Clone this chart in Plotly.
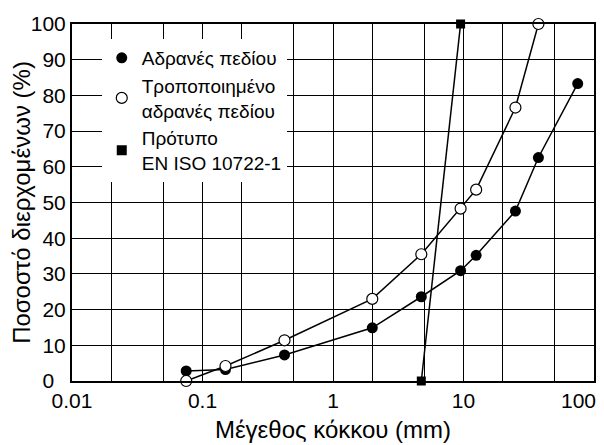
import math
import plotly.graph_objects as go

sizes_field = [0.075, 0.15, 0.425, 2, 4.75, 9.5, 12.5, 25, 37.5, 75]
pass_field = [2.8, 3.2, 7.3, 14.9, 23.6, 30.9, 35.2, 47.6, 62.6, 83.3]

sizes_mod = [0.075, 0.15, 0.425, 2, 4.75, 9.5, 12.5, 25, 37.5]
pass_mod = [0, 4.2, 11.4, 23.0, 35.5, 48.3, 53.6, 76.6, 100]

sizes_std = [4.75, 9.5]
pass_std = [0, 100]

names = ["Αδρανές πεδίου", "Τροποποιημένο<br>αδρανές πεδίου", "Πρότυπο<br>EN ISO 10722-1"]
x_ticks = [0.01, 0.1, 1, 10]
x_tick_text = ["0.01", "0.1", "1", "10"]
x_last_tick = 100
x_last_text = "100"
x_minor = [0.02, 0.05, 0.2, 0.5, 2, 5, 20, 50]
y_ticks = list(range(0, 101, 10))
y_tick_text = ["0\u00a0\u00a0"] + [str(v) for v in y_ticks[1:]]

FONT = "Liberation Sans, Arial, sans-serif"
fig = go.Figure()

line = dict(color="black", width=1.5)
fig.add_trace(go.Scatter(x=sizes_field, y=pass_field, mode="lines+markers", line=line,
                         marker=dict(symbol="circle", size=11, color="black"),
                         showlegend=False, cliponaxis=False))
fig.add_trace(go.Scatter(x=sizes_mod, y=pass_mod, mode="lines+markers", line=line,
                         marker=dict(symbol="circle", size=11, color="white",
                                     line=dict(color="black", width=1.2)),
                         showlegend=False, cliponaxis=False))
fig.add_trace(go.Scatter(x=sizes_std, y=pass_std, mode="lines+markers", line=line,
                         marker=dict(symbol="square", size=9, color="black"),
                         showlegend=False, cliponaxis=False))

# legend-only entries (markers only)
fig.add_trace(go.Scatter(x=[None], y=[None], mode="markers", name=names[0],
                         marker=dict(symbol="circle", size=11, color="black")))
fig.add_trace(go.Scatter(x=[None], y=[None], mode="markers", name=names[1],
                         marker=dict(symbol="circle", size=11, color="white",
                                     line=dict(color="black", width=1.2))))
fig.add_trace(go.Scatter(x=[None], y=[None], mode="markers", name=names[2],
                         marker=dict(symbol="square", size=10, color="black")))

fig.add_annotation(x=math.log10(x_last_tick), xref="x", y=0, yref="paper",
                   text=x_last_text, showarrow=False, xanchor="right", yanchor="top",
                   xshift=4, yshift=-6, font=dict(size=21, family=FONT))

fig.update_layout(
    width=596, height=437,
    margin=dict(l=64, r=10, t=16, b=64),
    paper_bgcolor="white", plot_bgcolor="white",
    font=dict(family=FONT, size=18, color="black"),
    legend=dict(x=0.057, y=0.958, xanchor="left", yanchor="top",
                bgcolor="white", font=dict(size=19, family=FONT),
                tracegroupgap=0, itemwidth=30),
    xaxis=dict(type="log", range=[-2, 2], tickmode="array",
               tickvals=x_ticks, ticktext=x_tick_text,
               showgrid=True, gridcolor="black", gridwidth=1,
               minor=dict(tickmode="array", tickvals=x_minor, showgrid=True,
                          gridcolor="black", gridwidth=1, ticks=""),
               showline=True, linecolor="black", linewidth=2, mirror=True,
               ticks="", zeroline=False, automargin=False,
               tickfont=dict(size=21, family=FONT),
               title=dict(text="Μέγεθος κόκκου (mm)", font=dict(size=24, family=FONT), standoff=10)),
    yaxis=dict(range=[0, 100], tickmode="array", tickvals=y_ticks, ticktext=y_tick_text,
               showgrid=True, gridcolor="black", gridwidth=1,
               showline=True, linecolor="black", linewidth=2, mirror=True,
               ticks="", zeroline=False, automargin=False,
               tickfont=dict(size=21, family=FONT),
               title=dict(text="Ποσοστό διερχομένων (%)", font=dict(size=24, family=FONT), standoff=2)),
)

fig.write_html("out.html")
